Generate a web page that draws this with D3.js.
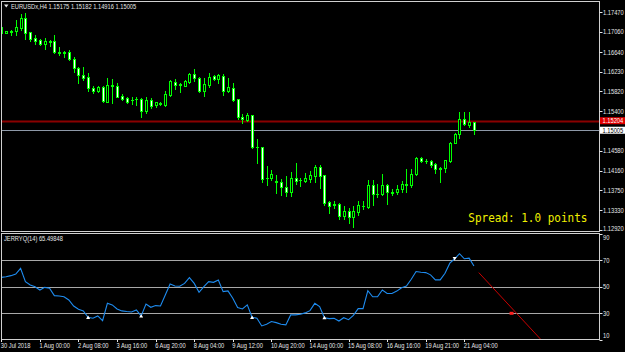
<!DOCTYPE html>
<html><head><meta charset="utf-8">
<script src="https://cdn.jsdelivr.net/npm/d3@7"></script>
<style>html,body{margin:0;padding:0;background:#000;}svg{display:block;}</style>
</head><body>
<script>
// ---------- DATA ----------
const symbolTitle = "EURUSDx,H4 1.15175 1.15182 1.14916 1.15005";
const indTitle = "JERRYQ(14) 65.49848";
const spreadText = "Spread: 1.0 points";

const open = [1.1716,1.1704,1.1706,1.1708,1.1714,1.1735,1.1705,1.1693,1.1689,1.1680,
1.1686,1.1686,1.1664,1.1663,1.1664,1.1649,1.1631,1.1616,1.1612,1.1588,
1.1583,1.1590,1.1560,1.1595,1.1594,1.1573,1.1568,1.1564,1.1565,1.1565,
1.1541,1.1564,1.1553,1.1556,1.1553,1.1574,1.1602,1.1597,1.1594,1.1601,
1.1618,1.1609,1.1583,1.1595,1.1614,1.1607,1.1614,1.1583,1.1589,1.1565,
1.1529,1.1522,1.1532,1.1465,1.1465,1.1400,1.1401,1.1394,1.1393,1.1381,
1.1372,1.1401,1.1397,1.1395,1.1399,1.1405,1.1423,1.1406,1.1351,1.1346,
1.1346,1.1321,1.1332,1.1319,1.1330,1.1342,1.1341,1.1386,1.1367,1.1367,
1.1386,1.1371,1.1371,1.1377,1.1387,1.1387,1.1408,1.1442,1.1437,1.1437,
1.1429,1.1421,1.1421,1.1437,1.1474,1.1492,1.1523,1.1512,1.15175];
const high = [1.1717,1.1708,1.1711,1.1731,1.1743,1.1745,1.1706,1.1699,1.1691,1.1693,
1.1689,1.1700,1.1675,1.1666,1.1668,1.1654,1.1633,1.1633,1.1621,1.1592,
1.1593,1.1593,1.1610,1.1607,1.1600,1.1576,1.1571,1.1569,1.1571,1.1567,
1.1569,1.1567,1.1560,1.1560,1.1583,1.1606,1.1608,1.1599,1.1606,1.1621,
1.1628,1.1611,1.1609,1.1620,1.1616,1.1618,1.1618,1.1609,1.1600,1.1566,
1.1534,1.1536,1.1533,1.1482,1.1466,1.1426,1.1417,1.1407,1.1398,1.1405,
1.1414,1.1433,1.1401,1.1411,1.1416,1.1428,1.1428,1.1407,1.1352,1.1352,
1.1348,1.1342,1.1337,1.1342,1.1353,1.1353,1.1397,1.1397,1.1388,1.1409,
1.1388,1.1377,1.1386,1.1394,1.1419,1.1419,1.1444,1.1444,1.1440,1.1438,
1.1431,1.1424,1.1430,1.1476,1.1494,1.1539,1.1539,1.1539,1.15182];
const low = [1.1702,1.1703,1.1700,1.1700,1.1710,1.1691,1.1688,1.1680,1.1679,1.1670,
1.1677,1.1661,1.1657,1.1654,1.1647,1.1623,1.1600,1.1606,1.1583,1.1579,
1.1580,1.1560,1.1559,1.1558,1.1569,1.1564,1.1558,1.1555,1.1553,1.1529,
1.1536,1.1547,1.1550,1.1553,1.1551,1.1573,1.1586,1.1581,1.1592,1.1599,
1.1603,1.1581,1.1572,1.1590,1.1606,1.1600,1.1574,1.1581,1.1562,1.1525,
1.1515,1.1520,1.1463,1.1431,1.1393,1.1386,1.1397,1.1369,1.1365,1.1363,
1.1363,1.1388,1.1384,1.1393,1.1393,1.1393,1.1379,1.1344,1.1328,1.1339,
1.1316,1.1314,1.1307,1.1299,1.1323,1.1335,1.1337,1.1344,1.1362,1.1365,
1.1347,1.1365,1.1367,1.1372,1.1372,1.1381,1.1407,1.1435,1.1433,1.1424,
1.1411,1.1393,1.1414,1.1435,1.1473,1.1484,1.1511,1.1508,1.14916];
const close = [1.1703,1.1707,1.1707,1.1716,1.1735,1.1704,1.1691,1.1688,1.1680,1.1688,
1.1685,1.1663,1.1661,1.1662,1.1649,1.1630,1.1616,1.1610,1.1588,1.1583,
1.1590,1.1562,1.1595,1.1594,1.1571,1.1565,1.1560,1.1563,1.1566,1.1541,
1.1564,1.1551,1.1559,1.1557,1.1576,1.1603,1.1595,1.1596,1.1603,1.1618,
1.1609,1.1583,1.1597,1.1612,1.1608,1.1616,1.1583,1.1590,1.1564,1.1528,
1.1524,1.1532,1.1465,1.1466,1.1398,1.1401,1.1409,1.1393,1.1381,1.1372,
1.1401,1.1394,1.1396,1.1401,1.1407,1.1423,1.1405,1.1349,1.1343,1.1345,
1.1321,1.1332,1.1320,1.1332,1.1344,1.1343,1.1386,1.1367,1.1368,1.1386,
1.1371,1.1370,1.1378,1.1388,1.1388,1.1409,1.1442,1.1436,1.1437,1.1428,
1.1419,1.1420,1.1438,1.1473,1.1492,1.1523,1.1513,1.1517,1.15005];

const indicator = [57,57.5,58.3,59.5,63.8,53.8,51.3,50,47.5,49.5,
48.8,43.3,43,42.5,40,35.5,33,31.8,27,26.3,
28,24.5,37.5,36.3,33.3,31.8,31.3,31.0,32.5,28,
37,34.5,35.8,35.5,43.8,52,50.5,50.3,52.5,56.8,
52.5,45.8,50,53.8,53.3,55,46.3,46.8,41.3,34.3,
33.3,36.3,27,26.3,20.5,21.8,23.8,23,21.8,21.3,
28.8,28.8,29.3,30.3,32,37.5,35,26.7,26,26.2,
24.2,26.7,25.2,28.5,33.5,33.5,47,42.4,42.4,47.5,
44.9,44.9,46.7,49.2,50.5,55.6,61.4,60.9,60.6,58.9,
55.1,55.1,60.1,67.7,71,74.8,71,71.5,65.49848];

const buySignalIdx = [18, 29, 52, 67];
const sellSignalIdx = [94];
const projIdx = [99, 112];
const projVal = [60.6, 9.8];
const projMarkIdx = 105.8, projMarkVal = 30;

const priceTicks = ["1.17470","1.17060","1.16640","1.16230","1.15820","1.15400","1.14580","1.14160","1.13750","1.13330","1.12920"];
const redLinePrice = 1.15204;
const bidPrice = 1.15005;
const indTicks = [90, 70, 50, 30, 10];
const indLevels = [70, 50, 30];
const timeLabels = ["30 Jul 2018","1 Aug 00:00","2 Aug 08:00","3 Aug 16:00","6 Aug 20:00","8 Aug 04:00","9 Aug 12:00","10 Aug 20:00","14 Aug 00:00","15 Aug 08:00","16 Aug 16:00","19 Aug 21:00","21 Aug 04:00"];
const timeLabelIdx = [0,8,16,24,32,40,48,56,64,72,80,88,96];

// ---------- DRAW ----------
const W = 625, H = 352;
const L = 1.5, R = 599.5, mainTop = 1.5, mainBot = 231.5, indTop = 233.5, indBot = 339.5;
const fg = "#e6e6e6";
const font = "'Liberation Sans', Arial, sans-serif";

const svg = d3.select("body").append("svg").attr("width", W).attr("height", H);
svg.append("rect").attr("width", W).attr("height", H).attr("fill", "#000");

const x = d3.scaleLinear().domain([0, 98]).range([1.3, 1.3 + 4.823 * 98]);
const y = d3.scaleLinear().domain([1.12920, 1.17470]).range([230, 12.3]);
const yi = d3.scaleLinear().domain([10, 90]).range([339.9, 233.5]);

function txt(g, tx, ty, s, size, fill, fam, sx) {
  return g.append("text")
    .attr("transform", `translate(${tx},${ty}) scale(${sx || 0.82},1)`)
    .attr("font-family", fam || font).attr("font-size", size)
    .attr("fill", fill).text(s);
}

const defs = svg.append("defs");
defs.append("clipPath").attr("id", "clipMain").append("rect")
  .attr("x", L).attr("y", mainTop).attr("width", R - L).attr("height", mainBot - mainTop);
defs.append("clipPath").attr("id", "clipInd").append("rect")
  .attr("x", L).attr("y", indTop).attr("width", R - L).attr("height", indBot - indTop);

// horizontal lines in main chart
const gMain = svg.append("g").attr("clip-path", "url(#clipMain)");
gMain.append("line").attr("x1", L).attr("x2", R)
  .attr("y1", Math.round(y(redLinePrice)) + 0.5).attr("y2", Math.round(y(redLinePrice)) + 0.5)
  .attr("stroke", "#8a0000").attr("stroke-width", 1.8);
gMain.append("line").attr("x1", L).attr("x2", R)
  .attr("y1", Math.round(y(bidPrice)) + 0.5).attr("y2", Math.round(y(bidPrice)) + 0.5)
  .attr("stroke", "#8e99a8").attr("stroke-width", 1);

// candles
const idx = d3.range(open.length);
const gC = gMain.append("g").attr("shape-rendering", "crispEdges");
idx.forEach(i => {
  const n = Math.round(x(i));
  const cx = n + 0.5;
  const bull = close[i] >= open[i];
  gC.append("line").attr("x1", cx).attr("x2", cx)
    .attr("y1", Math.round(y(high[i]))).attr("y2", Math.round(y(low[i])) + 1)
    .attr("stroke", "#00ff00").attr("stroke-width", 1);
  const top = Math.round(y(Math.max(open[i], close[i]))) + 0.5;
  const bot = Math.round(y(Math.min(open[i], close[i]))) + 0.5;
  if (bot - top < 1) {
    gC.append("line").attr("x1", n - 1).attr("x2", n + 2).attr("y1", top).attr("y2", top)
      .attr("stroke", "#00ff00").attr("stroke-width", 1);
  } else {
    gC.append("rect").attr("x", n - 0.5).attr("y", top).attr("width", 2).attr("height", bot - top)
      .attr("fill", bull ? "#000" : "#ffffff").attr("stroke", "#00ff00").attr("stroke-width", 1);
  }
});

// indicator levels
const gInd = svg.append("g").attr("clip-path", "url(#clipInd)");
indLevels.forEach(v => {
  const yy = Math.round(yi(v)) + 0.5;
  gInd.append("line").attr("x1", L).attr("x2", R).attr("y1", yy).attr("y2", yy)
    .attr("stroke", "#a8a8a8").attr("stroke-width", 1);
});
// indicator line
gInd.append("path").datum(idx)
  .attr("d", d3.line().x(i => x(i)).y(i => yi(indicator[i])))
  .attr("fill", "none").attr("stroke", "#1e8cf0").attr("stroke-width", 1.1);
// projection
gInd.append("path").datum([0, 1])
  .attr("d", d3.line().x(k => x(projIdx[k])).y(k => yi(projVal[k])))
  .attr("fill", "none").attr("stroke", "#c80000").attr("stroke-width", 1);
gInd.append("rect").attr("x", x(projMarkIdx) - 2).attr("y", yi(projMarkVal) - 1.5)
  .attr("width", 4).attr("height", 3).attr("fill", "#ff2020");
// signal markers
buySignalIdx.forEach(i => {
  gInd.append("path").attr("d", d3.symbol().type(d3.symbolTriangle).size(7)())
    .attr("transform", `translate(${x(i)},${yi(indicator[i]) + 0.5})`).attr("fill", "#ffffff");
});
sellSignalIdx.forEach(i => {
  gInd.append("path").attr("d", d3.symbol().type(d3.symbolTriangle).size(7)())
    .attr("transform", `translate(${x(i)},${yi(indicator[i]) - 0.5}) rotate(180)`).attr("fill", "#ffffff");
});

// panel frames
svg.append("rect").attr("x", L).attr("y", mainTop).attr("width", R - L).attr("height", mainBot - mainTop)
  .attr("fill", "none").attr("stroke", "#d0d0d0").attr("stroke-width", 1);
svg.append("rect").attr("x", L).attr("y", indTop).attr("width", R - L).attr("height", indBot - indTop)
  .attr("fill", "none").attr("stroke", "#d0d0d0").attr("stroke-width", 1);

// right price axis
const gAx = svg.append("g");
priceTicks.forEach(s => {
  const yy = y(+s);
  gAx.append("line").attr("x1", R).attr("x2", R + 3).attr("y1", Math.round(yy) + 0.5).attr("y2", Math.round(yy) + 0.5)
    .attr("stroke", fg).attr("stroke-width", 1);
  txt(gAx, 603, Math.min(yy + 2.5, mainBot - 0.5), s, 7, fg);
});
// price labels
const yr = y(redLinePrice);
gAx.append("rect").attr("x", 600).attr("y", yr - 3.5).attr("width", 25).attr("height", 7).attr("fill", "#e00000");
txt(gAx, 602.5, yr + 2.5, d3.format(".5f")(redLinePrice), 7, "#ffffff");
const yb = y(bidPrice);
gAx.append("rect").attr("x", 600).attr("y", yb - 3.5).attr("width", 25).attr("height", 7).attr("fill", "#ffffff");
txt(gAx, 602.5, yb + 2.5, d3.format(".5f")(bidPrice), 7, "#000000");

// indicator axis
indTicks.forEach(v => {
  const yy = yi(v);
  gAx.append("line").attr("x1", R).attr("x2", R + 3).attr("y1", Math.round(yy) + 0.5).attr("y2", Math.round(yy) + 0.5)
    .attr("stroke", fg).attr("stroke-width", 1);
  const ly = Math.max(indTop + 6.5, Math.min(indBot - 1.5, yy + 2.5));
  txt(gAx, 603, ly, String(v), 7, fg);
});

// time axis
timeLabelIdx.forEach((i, k) => {
  const xx = Math.round(x(i)) + 0.5;
  gAx.append("line").attr("x1", xx).attr("x2", xx).attr("y1", indBot).attr("y2", indBot + 2.5)
    .attr("stroke", fg).attr("stroke-width", 1);
  txt(gAx, x(i) - 0.5, 347.5, timeLabels[k], 7, fg);
});

// titles
svg.append("path").attr("d", "M4,4.5 L8.5,4.5 L6.25,7.5 Z").attr("fill", fg);
txt(svg, 11, 8.8, symbolTitle, 7, fg);
txt(svg, 4, 240.8, indTitle, 7, fg);

// spread text
txt(svg, 468.3, 221.6, spreadText, 12.5, "#f0f000", "'DejaVu Sans Mono', monospace", 0.88);
</script>
</body></html>
